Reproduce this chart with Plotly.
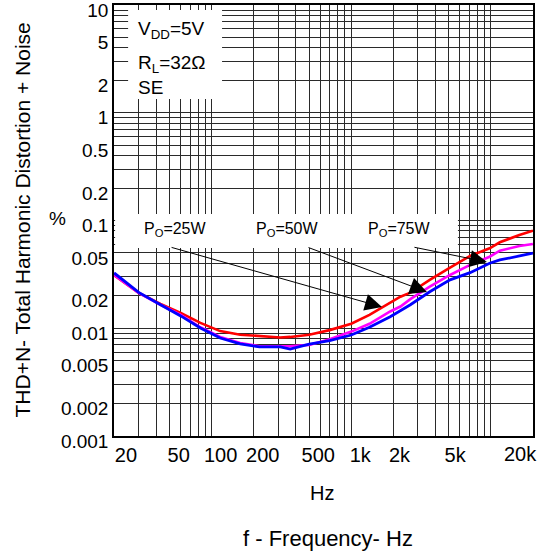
import numpy as np
import plotly.graph_objects as go

# ---- data ----
freq_hz = [20, 30, 43, 60, 83, 115, 160, 220, 310, 365, 500, 700, 1000, 1350,
           1900, 2250, 2650, 3650, 5100, 7100, 9800, 11600, 16000, 20000]
thd_25w = [0.031, 0.0213, 0.0168, 0.0139, 0.0112, 0.0094, 0.0087, 0.0085, 0.0082,
           0.0083, 0.0087, 0.0096, 0.011, 0.0133, 0.0171, 0.0196, 0.0214, 0.0281,
           0.0365, 0.0469, 0.0552, 0.0628, 0.0733, 0.0804]
thd_50w = [0.0312, 0.0213, 0.0165, 0.0133, 0.0102, 0.0083, 0.0073, 0.0068, 0.0068,
           0.0068, 0.0070, 0.0079, 0.0093, 0.011, 0.0143, 0.0159, 0.0186, 0.0243,
           0.0312, 0.0387, 0.0461, 0.0525, 0.0579, 0.0605]
thd_75w = [0.0326, 0.0215, 0.0165, 0.013, 0.01005, 0.0081, 0.00714, 0.0067, 0.0067,
           0.0064, 0.0071, 0.00766, 0.00865, 0.0102, 0.0128, 0.0145, 0.0165, 0.0218,
           0.0281, 0.0328, 0.0401, 0.043, 0.0469, 0.0497]

NB = "\u00a0"
x_tick_vals = [20, 50, 100, 200, 500, 1000, 2000, 5000]
x_tick_text = [NB + "20", "50", "100", "200", "500", "1k", "2k" + NB, "5k" + NB]
x_end_val = 20000
x_end_text = "20k"
y_tick_vals = [0.001, 0.002, 0.005, 0.01, 0.02, 0.05, 0.1, 0.2, 0.5, 1, 2, 5, 10]
y_tick_text = ["0.001", "0.002", "0.005", "0.01", "0.02", "0.05", "0.1", "0.2",
               "0.5", "1", "2", "5", "10"]

FONT = "Liberation Sans, Arial, sans-serif"

# full log grid (1..9 per decade)
def log_grid(lo_exp, hi_exp, lo, hi):
    vals = []
    for e in range(lo_exp, hi_exp + 1):
        for m in range(1, 10):
            v = m * 10 ** e
            if lo - 1e-12 <= v <= hi + 1e-12:
                vals.append(v)
    return vals

x_grid = log_grid(1, 4, 20, 20000)
y_grid = log_grid(-3, 1, 0.001, 10)

def labels_for(grid, vals, texts):
    out = []
    for g in grid:
        hit = [t for v, t in zip(vals, texts) if abs(np.log10(v) - np.log10(g)) < 1e-9]
        out.append(hit[0] if hit else "")
    return out

fig = go.Figure()
for ys, col, w in [(thd_25w, "#ff0000", 2.6), (thd_50w, "#ff00ff", 2.6), (thd_75w, "#0000ff", 2.8)]:
    fig.add_trace(go.Scatter(x=freq_hz, y=ys, mode="lines",
                             line=dict(color=col, width=w), showlegend=False))

EPS = 0.0008
fig.update_xaxes(type="log", range=[np.log10(20) - EPS, np.log10(20000) + EPS],
                 tickvals=x_grid, ticktext=labels_for(x_grid, x_tick_vals, x_tick_text),
                 tickangle=0, ticklabelshift=9, ticklabeloverflow="allow", automargin=False,
                 showgrid=True, gridcolor="#2a2a2a", gridwidth=1.2,
                 showline=True, linecolor="black", linewidth=1.5, mirror=True,
                 ticks="", tickfont=dict(family=FONT, size=20, color="black"))
fig.update_yaxes(type="log", range=[-3 - EPS, 1 + EPS],
                 tickvals=y_grid, ticktext=labels_for(y_grid, y_tick_vals, y_tick_text),
                 showgrid=True, gridcolor="#2a2a2a", gridwidth=1.2,
                 showline=True, linecolor="black", linewidth=1.5, mirror=True,
                 ticks="", ticklabelshift=5, ticklabeloverflow="allow", automargin=False,
                 tickfont=dict(family=FONT, size=19, color="black"))

def px2f(px):
    return 20 * 10 ** ((px - 114) / 139.67)

def py2v(py):
    return 10 ** (1 - (py - 5) / 107.75)

shapes = [
    # condition box
    dict(type="rect", xref="x", yref="y", x0=px2f(128), x1=px2f(222), y0=py2v(99), y1=py2v(10),
         fillcolor="white", line=dict(width=0), layer="above"),
    # label band
    dict(type="rect", xref="x", yref="y", x0=px2f(115), x1=px2f(458), y0=py2v(248), y1=py2v(214),
         fillcolor="white", line=dict(width=0), layer="above"),
]
fig.update_layout(shapes=shapes)

annotations = []
# end tick label of the frequency axis (pulled inside the figure like the reference)
annotations.append(dict(text=x_end_text, xref="x", yref="paper", x=np.log10(x_end_val),
                        y=(436 - 454) / 431, xanchor="center", yanchor="middle", xshift=-12,
                        showarrow=False, font=dict(family=FONT, size=20, color="black")))
# box text
for txt, py in [("V<sub>DD</sub>=5V", 30), ("R<sub>L</sub>=32\u03a9", 64), ("SE", 88)]:
    annotations.append(dict(text=txt, xref="paper", yref="paper",
                            x=(136 - 114) / 419, y=(436 - py) / 431, xanchor="left", yanchor="middle",
                            showarrow=False, font=dict(family=FONT, size=19, color="black")))
# power labels
for txt, px in [("P<sub>O</sub>=25W", 175), ("P<sub>O</sub>=50W", 287), ("P<sub>O</sub>=75W", 399)]:
    annotations.append(dict(text=txt, xref="paper", yref="paper",
                            x=(px - 114) / 419, y=(436 - 230) / 431, xanchor="center", yanchor="middle",
                            showarrow=False, font=dict(family=FONT, size=16, color="black")))
# arrows (tail -> head), coordinates in log units for log axes
for (tx, ty), (hx, hy) in [((170, 247), (382, 307)), ((307, 247), (427, 292)), ((413, 247), (487, 262))]:
    annotations.append(dict(text="", x=np.log10(px2f(hx)), y=np.log10(py2v(hy)),
                            ax=np.log10(px2f(tx)), ay=np.log10(py2v(ty)),
                            xref="x", yref="y", axref="x", ayref="y",
                            showarrow=True, arrowhead=2, arrowsize=3.4, arrowwidth=1, arrowcolor="black"))
# axis titles
annotations.append(dict(text="THD+N- Total Harmonic Distortion + Noise", xref="paper", yref="paper",
                        x=(22 - 114) / 419, y=0.5, textangle=-90, showarrow=False,
                        xanchor="center", yanchor="middle",
                        font=dict(family=FONT, size=21, color="black")))
annotations.append(dict(text="%", xref="paper", yref="paper", x=(57 - 114) / 419, y=(436 - 219) / 431,
                        showarrow=False, xanchor="center", yanchor="middle",
                        font=dict(family=FONT, size=19, color="black")))
annotations.append(dict(text="Hz", xref="paper", yref="paper", x=(322 - 114) / 419, y=(436 - 493) / 431,
                        showarrow=False, xanchor="center", yanchor="middle",
                        font=dict(family=FONT, size=20, color="black")))
annotations.append(dict(text="f - Frequency- Hz", xref="paper", yref="paper", x=(328 - 114) / 419,
                        y=(436 - 538) / 431, showarrow=False, xanchor="center", yanchor="middle",
                        font=dict(family=FONT, size=22, color="black")))

fig.update_layout(annotations=annotations,
                  width=550, height=553, margin=dict(l=114, r=17, t=5, b=117, autoexpand=False),
                  paper_bgcolor="white", plot_bgcolor="white", showlegend=False)

fig.write_html("out.html")
